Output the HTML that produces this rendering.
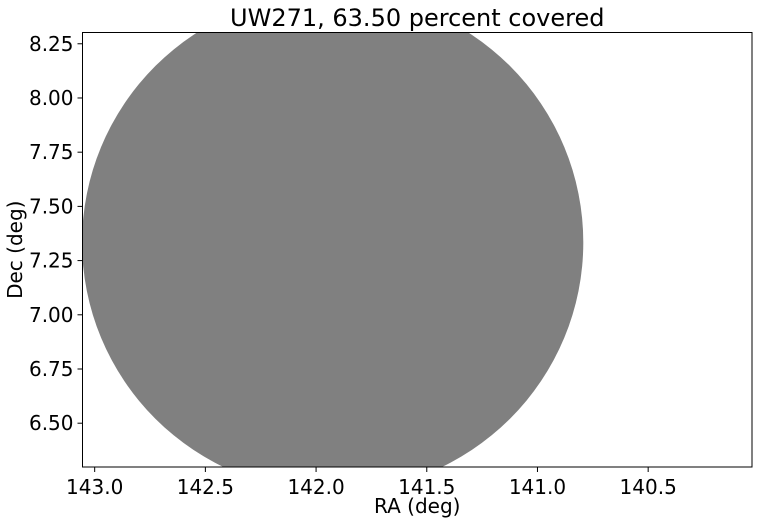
<!DOCTYPE html>
<html><head><meta charset="utf-8"><style>
body{margin:0;background:#fff;}
svg text{font-family:"DejaVu Sans","Liberation Sans",sans-serif;fill:#000;}
</style></head><body>
<svg width="758" height="523" viewBox="0 0 758 523">
<g id="plot"></g>
</svg>
<script>
const xTicks=[143.0,142.5,142.0,141.5,141.0,140.5];
const xTickLabels=["143.0","142.5","142.0","141.5","141.0","140.5"];
const yTicks=[6.50,6.75,7.00,7.25,7.50,7.75,8.00,8.25];
const yTickLabels=["6.50","6.75","7.00","7.25","7.50","7.75","8.00","8.25"];
const circleCenterRA=[141.925];
const circleCenterDec=[7.334];
const circleRadiusRA=[1.132];
const circleRadiusDec=[1.151];
const titleText="UW271, 63.50 percent covered";

const L=82.5,R=752,T=32.5,B=467;
const xMin=143.055,xMax=140.031,yMin=6.298,yMax=8.302;
const sx=v=>L+(v-xMin)/(xMax-xMin)*(R-L);
const sy=v=>B-(v-yMin)/(yMax-yMin)*(B-T);
const NS="http://www.w3.org/2000/svg";
const svg=document.querySelector('svg');
function mk(tag,attrs,parent){const e=document.createElementNS(NS,tag);for(const k in attrs)e.setAttribute(k,attrs[k]);(parent||svg).appendChild(e);return e;}

const defs=mk('defs',{});
const cp=mk('clipPath',{id:'clip'},defs);
mk('rect',{x:L,y:T,width:R-L,height:B-T},cp);

for(let i=0;i<circleCenterRA.length;i++){
  const cx=sx(circleCenterRA[i]),cy=sy(circleCenterDec[i]);
  const rx=Math.abs(sx(circleCenterRA[i]+circleRadiusRA[i])-cx);
  const ry=Math.abs(sy(circleCenterDec[i]+circleRadiusDec[i])-cy);
  const el=mk('ellipse',{cx:cx,cy:cy,rx:rx,ry:ry,fill:'#808080','clip-path':'url(#clip)'});
  
  
}

const frame=mk('rect',{x:L,y:T,width:R-L,height:B-T,fill:'none',stroke:'#000','stroke-width':1});



xTicks.forEach((v,i)=>{
  const x=sx(v);
  mk('line',{x1:x,x2:x,y1:B,y2:B+5,stroke:'#000'});
  const t=mk('text',{x:x,y:B+27,'text-anchor':'middle','font-size':20});
  t.textContent=xTickLabels[i];
  
  
});
yTicks.forEach((v,i)=>{
  const y=sy(v);
  mk('line',{x1:L-5,x2:L,y1:y,y2:y,stroke:'#000'});
  const t=mk('text',{x:L-9,y:y+7,'text-anchor':'end','font-size':20});
  t.textContent=yTickLabels[i];
  
  
});
const xt=mk('text',{x:(L+R)/2,y:513,'text-anchor':'middle','font-size':20});
xt.textContent="RA (deg)";


const yt=mk('text',{x:0,y:0,'text-anchor':'middle','font-size':20,transform:`translate(22,${(T+B)/2}) rotate(-90)`});
yt.textContent="Dec (deg)";


const tt=mk('text',{x:(L+R)/2,y:26,'text-anchor':'middle','font-size':24});
tt.textContent=titleText;


</script>
</body></html>
